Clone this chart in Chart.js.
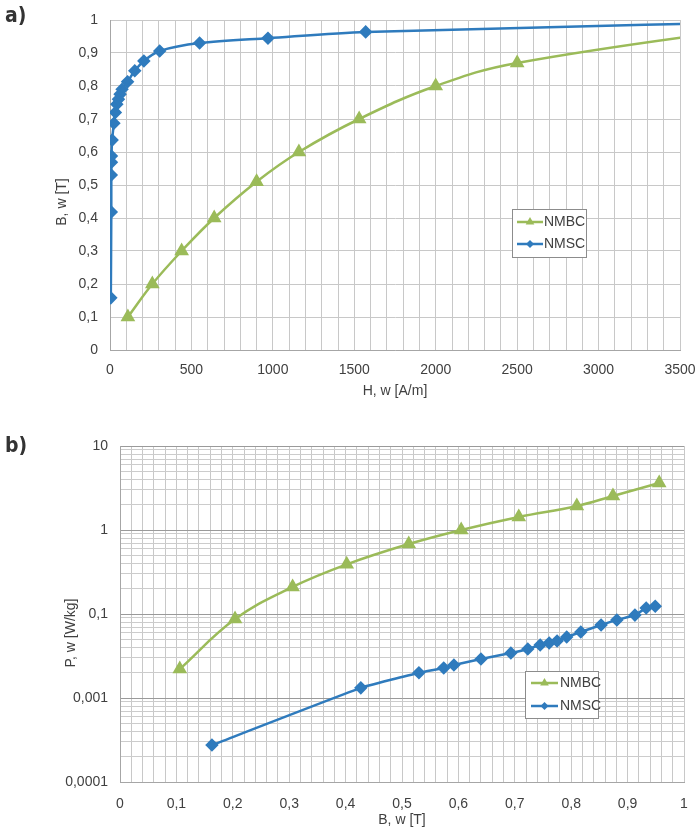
<!DOCTYPE html>
<html>
<head>
<meta charset="utf-8">
<script src="https://cdn.jsdelivr.net/npm/chart.js@4.4.1/dist/chart.umd.min.js"></script>
<style>
  body { margin: 0; background: #fff; }
  #wrap { position: relative; width: 700px; height: 837px; }
  canvas { position: absolute; left: 0; }
  #chartA { top: 0; }
  #chartB { top: 430px; }
  .tag {
    position: absolute; left: 5px;
    font-family: "Liberation Sans Narrow", "DejaVu Sans Condensed", sans-serif;
    font-weight: bold; font-size: 21px; color: #333;
  }
</style>
</head>
<body>
<div id="wrap">
  <canvas id="chartA" width="700" height="400"></canvas>
  <canvas id="chartB" width="700" height="407"></canvas>
  <div class="tag" style="top:3px">a)</div>
  <div class="tag" style="top:433px">b)</div>
</div>
<script>
// a) B(H)
const nmbcH = [110, 260, 440, 640, 900, 1160, 1530, 2000, 2500, 4200];
const nmbcB = [0.10, 0.20, 0.30, 0.40, 0.51, 0.60, 0.70, 0.80, 0.87, 0.995];
const nmscH = [5, 8, 8, 9, 9, 13, 24, 33, 42, 52, 62, 74, 108, 152, 208, 305, 550, 970, 1570, 5000];
const nmscB = [0.158, 0.418, 0.53, 0.569, 0.588, 0.636, 0.687, 0.72, 0.745, 0.76, 0.775, 0.79, 0.813, 0.846, 0.876, 0.906, 0.93, 0.945, 0.964, 1.005];
const ticksHA = [0, 500, 1000, 1500, 2000, 2500, 3000, 3500];
const ticksBA = [0, 0.1, 0.2, 0.3, 0.4, 0.5, 0.6, 0.7, 0.8, 0.9, 1];

// b) P(B)
const nmbcBb = [0.106, 0.204, 0.306, 0.402, 0.512, 0.605, 0.707, 0.810, 0.874, 0.956];
const nmbcP = [0.0221, 0.087, 0.21, 0.39, 0.68, 1.0, 1.43, 1.93, 2.54, 3.63];
const nmscBb = [0.163, 0.427, 0.530, 0.574, 0.592, 0.640, 0.693, 0.723, 0.745, 0.761, 0.775, 0.792, 0.817, 0.853, 0.881, 0.913, 0.933, 0.949];
const nmscP = [0.00275, 0.0132, 0.0200, 0.0228, 0.0247, 0.0291, 0.0343, 0.0383, 0.0428, 0.0452, 0.0478, 0.0532, 0.061, 0.074, 0.085, 0.097, 0.118, 0.124];
const ticksBb = [0, 0.1, 0.2, 0.3, 0.4, 0.5, 0.6, 0.7, 0.8, 0.9, 1];
const ticksP = [10, 1, 0.1, 0.01, 0.001];
const ticksPLabels = ["10", "1", "0,1", "0,001", "0,0001"];

const GREEN = "#9bbb59";
const BLUE = "#2f7bbd";
const TEXT = "#404040";
const FONT = "'Liberation Sans', Arial, sans-serif";

function coma(v) { return String(v).replace(".", ","); }
function pares(xs, ys) { return xs.map((x, i) => ({ x: x, y: ys[i] })); }
function buscar(lista, v) { return lista.findIndex(t => Math.abs(t - v) <= Math.abs(t) * 1e-6 + 1e-9); }

// lineas de la rejilla
const gridHA = [];
for (let h = 0; h <= 3500; h += 100) gridHA.push(h);
const gridBb = [];
for (let i = 0; i <= 50; i++) gridBb.push(Math.round(i * 2) / 100);
const gridP = [];
for (let e = -3; e <= 0; e++) {
  for (let m = 1; m <= 9; m++) gridP.push(parseFloat((m * Math.pow(10, e)).toPrecision(3)));
}
gridP.push(10);

function marcador(ctx, estilo, x, y, r, color) {
  ctx.fillStyle = color;
  ctx.beginPath();
  if (estilo === "triangle") {
    ctx.moveTo(x, y - r);
    ctx.lineTo(x + r * 0.866, y + r * 0.5);
    ctx.lineTo(x - r * 0.866, y + r * 0.5);
  } else {
    ctx.moveTo(x, y - r);
    ctx.lineTo(x + r, y);
    ctx.lineTo(x, y + r);
    ctx.lineTo(x - r, y);
  }
  ctx.closePath();
  ctx.fill();
}

// Leyenda dentro del area del grafico
const leyendaCaja = {
  id: "leyendaCaja",
  afterDraw(chart, args, o) {
    const ctx = chart.ctx;
    ctx.save();
    ctx.fillStyle = "#fff";
    ctx.fillRect(o.x, o.y, o.w, o.h);
    ctx.strokeStyle = "#8c8c8c";
    ctx.lineWidth = 1;
    ctx.strokeRect(o.x + 0.5, o.y + 0.5, o.w, o.h);
    chart.data.datasets.forEach((ds, i) => {
      const y = o.y + o.first + i * o.gap;
      ctx.strokeStyle = ds.borderColor;
      ctx.lineWidth = 2.5;
      ctx.beginPath();
      ctx.moveTo(o.x + o.lx0, y);
      ctx.lineTo(o.x + o.lx1, y);
      ctx.stroke();
      marcador(ctx, ds.pointStyle, o.x + (o.lx0 + o.lx1) / 2, y, ds.pointStyle === "triangle" ? 5 : 4, ds.borderColor);
      ctx.fillStyle = TEXT;
      ctx.font = "14px " + FONT;
      ctx.textBaseline = "middle";
      ctx.fillText(ds.label, o.x + o.tx, y);
    });
    ctx.restore();
  }
};

// Titulo vertical del eje Y
const tituloY = {
  id: "tituloY",
  afterDraw(chart, args, o) {
    const ctx = chart.ctx;
    ctx.save();
    ctx.translate(o.x, o.y);
    ctx.rotate(-Math.PI / 2);
    ctx.fillStyle = TEXT;
    ctx.font = "14px " + FONT;
    ctx.textAlign = "center";
    ctx.textBaseline = "middle";
    ctx.fillText(o.text, 0, 0);
    ctx.restore();
  }
};

const fuente = { family: FONT, size: 14 };

new Chart(document.getElementById("chartA"), {
  type: "scatter",
  data: {
    datasets: [
      { label: "NMBC", data: pares(nmbcH, nmbcB), borderColor: GREEN, backgroundColor: GREEN,
        pointStyle: "triangle", pointRadius: 6, borderWidth: 2.5, showLine: true, tension: 0.4 },
      { label: "NMSC", data: pares(nmscH, nmscB), borderColor: BLUE, backgroundColor: BLUE,
        pointStyle: "rectRot", pointRadius: 5, borderWidth: 2.5, showLine: true, tension: 0.3 }
    ]
  },
  options: {
    responsive: false,
    animation: false,
    layout: { padding: { left: 50, top: 20, right: 20, bottom: 0 } },
    plugins: {
      legend: { display: false },
      tooltip: { enabled: false },
      leyendaCaja: { x: 512, y: 209, w: 74, h: 48, first: 13, gap: 22, lx0: 5, lx1: 31, tx: 32 },
      tituloY: { text: "B, w [T]", x: 62, y: 202 }
    },
    scales: {
      x: {
        type: "linear", min: 0, max: 3500,
        afterBuildTicks: s => { s.ticks = gridHA.map(v => ({ value: v })); },
        afterFit: s => { s.height = 50; },
        ticks: { autoSkip: false, maxRotation: 0, padding: 0, color: TEXT, font: fuente,
          callback: v => ticksHA.includes(v) ? String(v) : "" },
        grid: { color: "#c8c8c8", drawTicks: true, tickLength: 12, tickColor: "rgba(0,0,0,0)" },
        border: { color: "#a6a6a6" },
        title: { display: true, text: "H, w [A/m]", color: TEXT, font: fuente, padding: { top: 0, bottom: 0 } }
      },
      y: {
        type: "linear", min: 0, max: 1,
        afterBuildTicks: s => { s.ticks = ticksBA.map(v => ({ value: v })); },
        afterFit: s => { s.width = 60; },
        ticks: { autoSkip: false, padding: 0, color: TEXT, font: fuente, callback: v => coma(v) },
        grid: { color: "#c8c8c8", drawTicks: true, tickLength: 12, tickColor: "rgba(0,0,0,0)" },
        border: { color: "#a6a6a6" }
      }
    }
  },
  plugins: [leyendaCaja, tituloY]
});

new Chart(document.getElementById("chartB"), {
  type: "scatter",
  data: {
    datasets: [
      { label: "NMBC", data: pares(nmbcBb, nmbcP), borderColor: GREEN, backgroundColor: GREEN,
        pointStyle: "triangle", pointRadius: 6, borderWidth: 2.5, showLine: true, tension: 0.4 },
      { label: "NMSC", data: pares(nmscBb, nmscP), borderColor: BLUE, backgroundColor: BLUE,
        pointStyle: "rectRot", pointRadius: 5, borderWidth: 2.5, showLine: true, tension: 0.1 }
    ]
  },
  options: {
    responsive: false,
    animation: false,
    layout: { padding: { left: 58, top: 16, right: 16, bottom: 0 } },
    plugins: {
      legend: { display: false },
      tooltip: { enabled: false },
      leyendaCaja: { x: 525, y: 241, w: 73, h: 47, first: 12, gap: 23, lx0: 6, lx1: 33, tx: 35 },
      tituloY: { text: "P, w [W/kg]", x: 71, y: 203 }
    },
    scales: {
      x: {
        type: "linear", min: 0, max: 1,
        afterBuildTicks: s => { s.ticks = gridBb.map(v => ({ value: v })); },
        afterFit: s => { s.height = 55; },
        ticks: { autoSkip: false, maxRotation: 0, padding: 0, color: TEXT, font: fuente,
          callback: v => { const k = buscar(ticksBb, v); return k >= 0 ? coma(ticksBb[k]) : ""; } },
        grid: { color: "#c8c8c8", drawTicks: true, tickLength: 14, tickColor: "rgba(0,0,0,0)" },
        border: { color: "#a6a6a6" },
        title: { display: true, text: "B, w [T]", color: TEXT, font: fuente, padding: { top: 0, bottom: 8 } }
      },
      y: {
        type: "logarithmic", min: 0.001, max: 10,
        afterBuildTicks: s => { s.ticks = gridP.map(v => ({ value: v })); },
        afterFit: s => { s.width = 62; },
        ticks: { autoSkip: false, padding: 0, color: TEXT, font: fuente,
          callback: v => { const k = buscar(ticksP, v); return k >= 0 ? ticksPLabels[k] : ""; } },
        grid: { drawTicks: true, tickLength: 12, tickColor: "rgba(0,0,0,0)",
          color: c => (c.tick && buscar(ticksP, c.tick.value) >= 0) ? "#9a9a9a" : "#cccccc" },
        border: { color: "#a6a6a6" }
      }
    }
  },
  plugins: [leyendaCaja, tituloY]
});
</script>
</body>
</html>
